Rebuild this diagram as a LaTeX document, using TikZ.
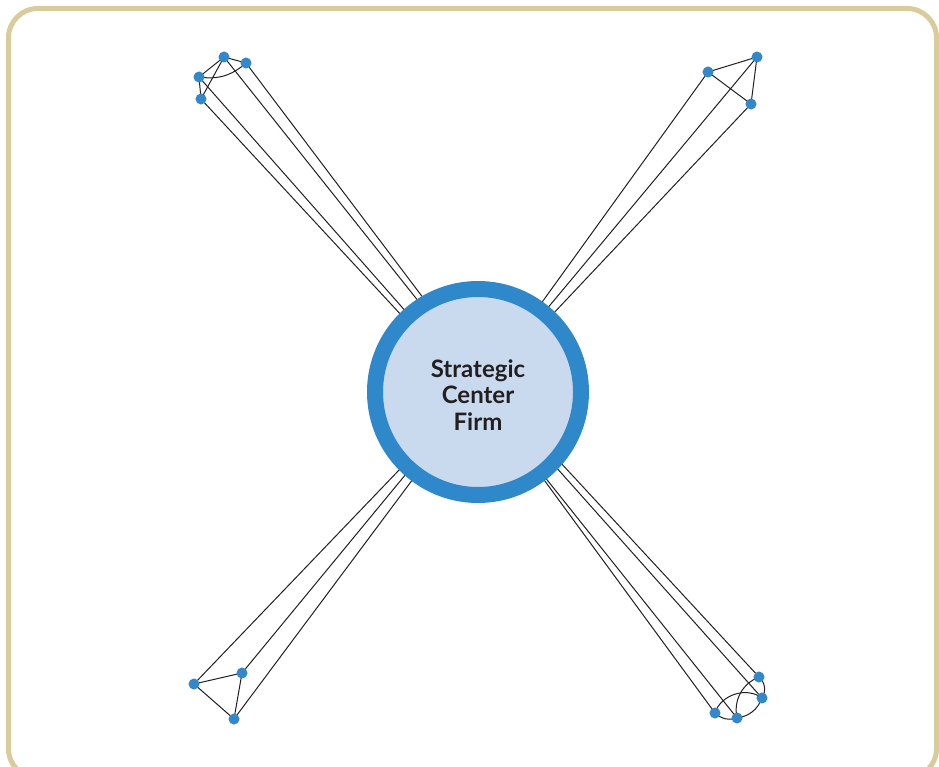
\documentclass[tikz,border=0pt]{standalone}
\usepackage{fontspec}
\setmainfont{Lato}
\pgfdeclarelayer{bg}
\pgfsetlayers{bg,main}
\definecolor{frameC}{HTML}{D9CB9B}
\definecolor{ringC}{HTML}{2F88C9}
\definecolor{coreC}{HTML}{C9DAEF}
\definecolor{dotC}{HTML}{3388CC}
\definecolor{inkC}{HTML}{231F20}
\begin{document}
\begin{tikzpicture}[x=0.75pt,y=-0.75pt,
  dotnode/.style={circle,fill=dotC,inner sep=0pt,minimum size=8.3pt},
  link/.style={draw=inkC,line width=0.75pt},
  hub/.style={circle,fill=coreC,draw=ringC,line width=12pt,minimum size=154.5pt,
    inner sep=0pt,align=center,text=inkC,
    font=\fontsize{18}{19.8}\selectfont\bfseries}]
\useasboundingbox (0,0) rectangle (939,767);
\draw[frameC,line width=3.75pt,rounded corners=22pt] (8.5,8.5) rectangle (936.5,778);

\node[hub] (firm) at (478,392) {};
\node[align=center,text=inkC,font=\fontsize{18}{19.8}\selectfont\bfseries,inner sep=0pt]
  (firmtext) at (478,395) {Strategic\\Center\\Firm};

% top-left cluster
\node[dotnode] (t1) at (224,57) {};
\node[dotnode] (t2) at (246,63) {};
\node[dotnode] (t3) at (199,77) {};
\node[dotnode] (t4) at (201,99) {};
% top-right cluster
\node[dotnode] (r1) at (708,72) {};
\node[dotnode] (r2) at (757,57) {};
\node[dotnode] (r3) at (751,104) {};
% bottom-left cluster
\node[dotnode] (b1) at (194,684) {};
\node[dotnode] (b2) at (242,673) {};
\node[dotnode] (b3) at (234,719) {};
% bottom-right cluster
\node[dotnode] (q1) at (715,713) {};
\node[dotnode] (q2) at (737,718) {};
\node[dotnode] (q3) at (762,698) {};
\node[dotnode] (q4) at (759,677) {};

% ends inside the ring
\coordinate (et1) at (419,302);
\coordinate (et2) at (424,299);
\coordinate (et3) at (408,314);
\coordinate (et4) at (403,317);
\coordinate (er1) at (540,305);
\coordinate (er2) at (546,310);
\coordinate (er3) at (551,316);
\coordinate (eb1) at (401,468);
\coordinate (eb2) at (406,474);
\coordinate (eb3) at (413,479);
\coordinate (eq1) at (539,473);
\coordinate (eq2) at (544,476);
\coordinate (eq3) at (555,466);
\coordinate (eq4) at (560,462);

\begin{pgfonlayer}{bg}
  % spokes
  \foreach \d in {t1,t2,t3,t4,r1,r2,r3,b1,b2,b3,q1,q2,q3,q4}
    \draw[link] (\d.center) -- (e\d);
  % top-left internal
  \draw[link] (t1.center) -- (t2.center);
  \draw[link] (t1.center) -- (t3.center);
  \draw[link] (t3.center) -- (t4.center);
  \draw[link] (t1.center) -- (t4.center);
  \draw[link] (t3.center) to[bend right=25] (t2.center);
  % top-right internal
  \draw[link] (r1.center) -- (r2.center);
  \draw[link] (r1.center) -- (r3.center);
  \draw[link] (r2.center) -- (r3.center);
  % bottom-left internal
  \draw[link] (b1.center) -- (b2.center);
  \draw[link] (b1.center) -- (b3.center);
  \draw[link] (b2.center) -- (b3.center);
  % bottom-right internal
  \draw[link] (q1.center) to[bend right=30] (q2.center);
  \draw[link] (q2.center) to[bend right=30] (q3.center);
  \draw[link] (q3.center) to[bend right=40] (q4.center);
  \draw[link] (q1.center) to[bend left=55] (q3.center);
  \draw[link] (q2.center) to[bend left=40] (q4.center);
\end{pgfonlayer}
\end{tikzpicture}
\end{document}
